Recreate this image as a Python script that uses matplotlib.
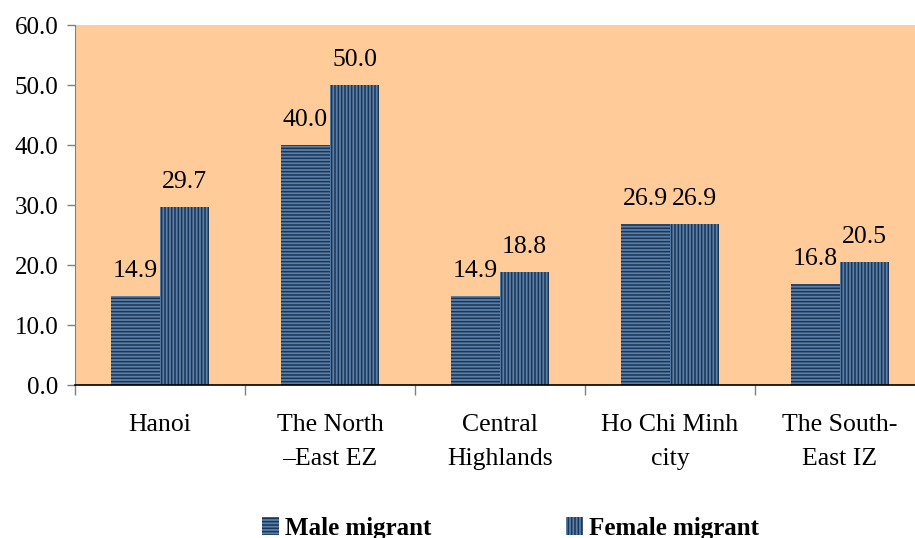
import matplotlib
matplotlib.use("Agg")
import matplotlib.pyplot as plt
import numpy as np

categories = ["Hanoi", "The North\n\u2013East EZ", "Central\nHighlands", "Ho Chi Minh\ncity", "The South-\nEast IZ"]
male = [14.9, 40.0, 14.9, 26.9, 16.8]
female = [29.7, 50.0, 18.8, 26.9, 20.5]
yticks = [0, 10, 20, 30, 40, 50, 60]

plt.rcParams['font.family'] = ['Liberation Serif', 'DejaVu Serif']
plt.rcParams['hatch.color'] = '#1b3556'
plt.rcParams['hatch.linewidth'] = 1.1

W, H = 915, 538
fig = plt.figure(figsize=(W/100, H/100), dpi=100)
left, right, top, bottom = 75, 925, 25, 385
ax = fig.add_axes([left/W, 1-bottom/H, (right-left)/W, (bottom-top)/H])
ax.set_facecolor('#ffcc99')

x = np.arange(len(categories))
bw = 0.29
face = '#5a7fa8'
b1 = ax.bar(x - bw/2, male, bw, color=face, hatch='-----', edgecolor='#1b3556', linewidth=0, label='Male migrant')
b2 = ax.bar(x + bw/2, female, bw, color=face, hatch='|||||', edgecolor='#1b3556', linewidth=0, label='Female migrant')
for bars, vals in ((b1, male), (b2, female)):
    for r, v in zip(bars, vals):
        ax.annotate(f"{v:.1f}", (r.get_x() + r.get_width()/2, v), xytext=(0, 10),
                    textcoords='offset points', ha='center', va='bottom', fontsize=18.5)

ax.set_xlim(-0.5, len(categories) - 0.5)
ax.set_ylim(0, 60)
ax.set_yticks(yticks)
ax.set_yticklabels([f"{v:.1f}" for v in yticks], fontsize=18)
ax.set_xticks(x)
ax.set_xticklabels(categories, fontsize=18.5, linespacing=1.7, va='top')
ax.tick_params(axis='x', length=0, pad=21)
ax.set_xticks(np.arange(len(categories) + 1) - 0.5, minor=True)
ax.tick_params(axis='x', which='minor', length=7, color='#808080', width=1)
ax.tick_params(axis='y', length=6, color='#808080', width=1, pad=6)
for s in ('top', 'right'):
    ax.spines[s].set_visible(False)
ax.spines['left'].set_color('#808080')
ax.spines['bottom'].set_color('black')
ax.spines['bottom'].set_linewidth(1.2)

leg = fig.legend(handles=[b1, b2], loc='lower left', bbox_to_anchor=(239/W, -0.045), ncol=2, frameon=False,
                 prop={'weight': 'bold', 'size': 18}, handlelength=0.7, handleheight=0.7,
                 handletextpad=0.25, columnspacing=5.36)

fig.savefig('out.png', dpi=100)
